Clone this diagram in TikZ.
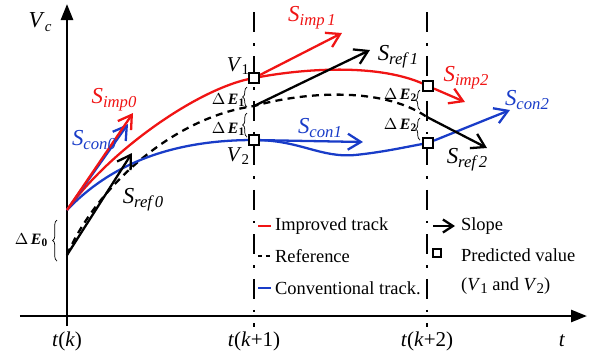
\documentclass[tikz,border=0pt]{standalone}
\usepackage{fontspec}
\setmainfont{LiberationSerif}[Extension=.ttf, UprightFont=*-Regular, ItalicFont=*-Italic, BoldFont=*-Bold, BoldItalicFont=*-BoldItalic]
\usetikzlibrary{arrows.meta, decorations.pathreplacing}
\definecolor{imp}{RGB}{240,20,20}
\definecolor{con}{RGB}{25,60,200}
\newcommand{\subs}[2]{\raisebox{-0.35ex}{\fontsize{#1}{#1}\selectfont #2}}
\newcommand{\lblS}[1]{\textit{S}\subs{9.5}{\textit{#1}}}
\newcommand{\lblV}[1]{\textit{V}\subs{8.5}{#1}}
\newcommand{\dE}[1]{\textbf{\textit{$\Delta$\,E}}\subs{6.5}{\textbf{#1}}}
\tikzset{
  axis/.style ={line width=1.5pt, -{Triangle[length=3.2mm, width=2.4mm]}},
  track/.style ={line width=1.3pt},
  slope/.style ={line width=1.3pt, -{Straight Barb[length=2.6mm, width=3.2mm]}},
  tline/.style ={line width=1.6pt, dash pattern=on 0.4cm off 0.22cm on 0.05cm off 0.22cm},
  pred/.style ={rectangle, draw, line width=1.1pt, fill=white, minimum size=0.2cm, inner sep=0pt},
  slbl/.style ={font=\fontsize{13}{14}\selectfont},
  tlbl/.style ={font=\fontsize{12}{14}\selectfont},
  leg/.style ={font=\fontsize{10.5}{12}\selectfont, anchor=west, inner sep=1pt},
  elbl/.style ={font=\fontsize{9}{10}\selectfont},
  brc/.style ={decorate, decoration={brace, amplitude=2.5pt}, thin}
}
\begin{document}
\begin{tikzpicture}[x=0.02cm, y=-0.02cm]
  \useasboundingbox (0,0) rectangle (593,360);
  % axes and time instants
  \coordinate (ytop) at (67,4);
  \coordinate (xend) at (587,316);
  \draw[axis] (20,316) -- (xend);
  \draw[axis] (67,326) -- (ytop);
  \draw[tline] (254,12) -- (254,327);
  \draw[tline] (427,12) -- (427,327);
  \node[tlbl] (tk)  at (67,341) {\textit{t}(\textit{k})};
  \node[tlbl] (tk1) at (254,341) {\textit{t}(\textit{k}+1)};
  \node[tlbl] (tk2) at (427,341) {\textit{t}(\textit{k}+2)};
  \node[tlbl] (tt)  at (562,341) {\textit{t}};
  \node[slbl] (vc)  at (40,22) {\lblV{\textit{c}}};

  % start points
  \coordinate (a0) at (67,210);
  \coordinate (r0) at (67,255);
  \coordinate (r1) at (254,106);
  \coordinate (r2) at (427,117);
  \node[pred] (v1) at (254,78) {};
  \node[pred] (v2) at (254,140) {};
  \node[pred] (p1) at (428,86) {};
  \node[pred] (p2) at (428,143) {};

  % tracks
  \draw[track, black, dash pattern=on 4pt off 3pt] (r0) .. controls (95,190) and (170,118) .. (r1)
    .. controls (300,93) and (380,85) .. (r2);
  \draw[track, con] (a0) .. controls (110,165) and (170,140) .. (v2.center)
    .. controls (300,140) and (320,158) .. (355,155) .. controls (385,152) and (410,146) .. (p2.center);
  \draw[track, imp] (a0) .. controls (110,150) and (200,87) .. (v1.center)
    .. controls (300,69) and (380,62) .. (p1.center);

  % slopes
  \coordinate (si0) at (133,113);
  \coordinate (sc0) at (128,124);
  \coordinate (sr0) at (132,153);
  \coordinate (si1) at (342,33);
  \coordinate (sr1) at (370,50);
  \coordinate (sc1) at (363,142);
  \coordinate (si2) at (465,102);
  \coordinate (sc2) at (510,110);
  \coordinate (sr2) at (487,148);
  \draw[slope, con] (a0) -- (sc0);
  \draw[slope, imp] (a0) -- (si0);
  \draw[slope] (r0) -- (sr0);
  \draw[slope, imp] (v1) -- (si1);
  \draw[slope] (r1) -- (sr1);
  \draw[slope, con] (v2) -- (sc1);
  \draw[slope, imp] (p1) -- (si2);
  \draw[slope, con] (p2) -- (sc2);
  \draw[slope] (r2) -- (sr2);
  \node[pred] at (254,78) {};
  \node[pred] at (254,140) {};
  \node[pred] at (428,86) {};
  \node[pred] at (428,143) {};

  % slope labels
  \node[slbl, imp] (limp0) at (114,100) {\lblS{imp0}};
  \node[slbl, con] (lcon0) at (94,140) {\lblS{con0}};
  \node[slbl] (lref0) at (143,200) {\lblS{ref\,0}};
  \node[slbl, imp] (limp1) at (312,18) {\lblS{imp\,1}};
  \node[slbl] (lref1) at (398,57) {\lblS{ref\,1}};
  \node[slbl, con] (lcon1) at (320,128) {\lblS{con1}};
  \node[slbl, imp] (limp2) at (466,78) {\lblS{imp2}};
  \node[slbl, con] (lcon2) at (527,100) {\lblS{con2}};
  \node[slbl] (lref2) at (467,160) {\lblS{ref\,2}};
  \node[tlbl] (lv1) at (238,66) {\lblV{1}};
  \node[tlbl] (lv2) at (238,156) {\lblV{2}};

  % errors
  \draw[brc] (57,261) -- (57,220);
  \node[elbl] (le0) at (31,240) {\dE{0}};
  \draw[brc] (247,107) -- (247,87);
  \draw[brc] (247,137) -- (247,113);
  \node[elbl] (le1a) at (228,100) {\dE{1}};
  \node[elbl] (le1b) at (228,129) {\dE{1}};
  \draw[brc] (420,110) -- (420,90);
  \draw[brc] (420,140) -- (420,118);
  \node[elbl] (le2a) at (400,95) {\dE{2}};
  \node[elbl] (le2b) at (400,125) {\dE{2}};

  % legend
  \draw[track, imp] (258,226) -- (271,226);
  \draw[track, dash pattern=on 2.5pt off 2pt] (258,256) -- (272,256);
  \draw[track, con] (258,288) -- (271,288);
  \node[leg] (gimp) at (273,226) {Improved track};
  \node[leg] (gref) at (273,256) {Reference};
  \node[leg] (gcon) at (273,288) {Conventional track.};
  \draw[slope, -{Straight Barb[length=2mm, width=2.6mm]}] (433,226) -- (455,226);
  \node[leg] (gslope) at (459,226) {Slope};
  \node[pred, minimum size=0.17cm] (gpred) at (437,253) {};
  \node[leg] (gpv) at (459,255) {Predicted value};
  \node[leg] (gvv) at (459,286) {(\lblV{1} and \lblV{2})};
\end{tikzpicture}
\end{document}
